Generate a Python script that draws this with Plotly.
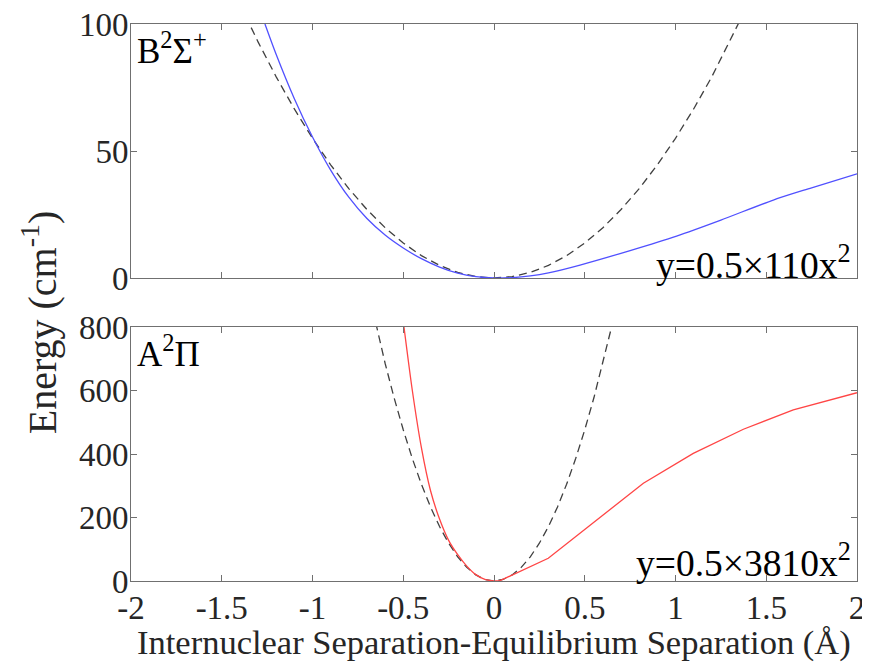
import plotly.graph_objects as go
from plotly.subplots import make_subplots

# ---- data ----
# B2Sigma+ state (top panel)
b_x = [-1.262, -1.2, -1.1, -1.0, -0.9, -0.8, -0.7, -0.6, -0.5, -0.4, -0.3, -0.2, -0.1, 0.0,
       0.1, 0.2, 0.3, 0.474, 0.75, 1.006, 1.25, 1.539, 1.75, 2.0]
b_y = [100.0, 88.0, 70.6, 55.5, 42.5, 31.8, 23.4, 16.9, 11.8, 7.6, 4.3, 1.9, 0.5, 0.0,
       0.15, 0.8, 2.0, 5.1, 10.8, 16.5, 22.8, 30.7, 35.5, 41.0]
# harmonic fit y = 0.5*110 x^2 (tabulated)
bfit_x = [-1.4, -1.3, -1.2, -1.1, -1.0, -0.9, -0.8, -0.7, -0.6, -0.5, -0.4, -0.3, -0.2, -0.1, 0.0,
          0.1, 0.2, 0.3, 0.4, 0.5, 0.6, 0.7, 0.8, 0.9, 1.0, 1.1, 1.2, 1.3, 1.4]
bfit_y = [107.8, 92.95, 79.2, 66.55, 55.0, 44.55, 35.2, 26.95, 19.8, 13.75, 8.8, 4.95, 2.2, 0.55, 0.0,
          0.55, 2.2, 4.95, 8.8, 13.75, 19.8, 26.95, 35.2, 44.55, 55.0, 66.55, 79.2, 92.95, 107.8]

# A2Pi state (bottom panel): smooth inner wall, then polyline outer part
a_left_x = [-0.496, -0.45, -0.4, -0.35, -0.3, -0.25, -0.2, -0.15, -0.1, -0.05, 0.0]
a_left_y = [800.0, 600.0, 420.0, 285.0, 195.0, 128.0, 83.0, 47.0, 20.0, 5.0, 0.0]
a_right_x = [0.0, 0.033, 0.299, 0.566, 0.823, 1.098, 1.374, 1.649, 2.0]
a_right_y = [0.0, 1.0, 71.5, 192.0, 308.0, 402.0, 478.0, 539.0, 593.0]
# harmonic fit y = 0.5*3810 x^2 (tabulated)
afit_x = [-0.7, -0.65, -0.6, -0.55, -0.5, -0.45, -0.4, -0.35, -0.3, -0.25, -0.2, -0.15, -0.1, -0.05, 0.0,
          0.05, 0.1, 0.15, 0.2, 0.25, 0.3, 0.35, 0.4, 0.45, 0.5, 0.55, 0.6, 0.65, 0.7]
afit_y = [933.45, 804.86, 685.8, 576.26, 476.25, 385.76, 304.8, 233.36, 171.45, 119.06, 76.2, 42.86, 19.05, 4.76, 0.0,
          4.76, 19.05, 42.86, 76.2, 119.06, 171.45, 233.36, 304.8, 385.76, 476.25, 576.26, 685.8, 804.86, 933.45]

x_ticks = [-2, -1.5, -1, -0.5, 0, 0.5, 1, 1.5, 2]
x_tick_text = ["-2", "-1.5", "-1", "-0.5", "0", "0.5", "1", "1.5", "2"]
top_y_ticks = [0, 50, 100]
bot_y_ticks = [0, 200, 400, 600, 800]

FONT = "Liberation Serif, Times New Roman, serif"
AX = "#707070"
TXT = "#262626"
DASH = dict(color="#404040", width=1.3, dash="8px,5px")

fig = make_subplots(rows=2, cols=1, shared_xaxes=False, vertical_spacing=0.088)

fig.add_trace(go.Scatter(x=bfit_x, y=bfit_y, mode="lines", line=DASH), row=1, col=1)
fig.add_trace(go.Scatter(x=b_x, y=b_y, mode="lines", line_shape="spline",
                         line=dict(color="#5050ff", width=1.3, smoothing=0.8)), row=1, col=1)
fig.add_trace(go.Scatter(x=afit_x, y=afit_y, mode="lines", line=DASH), row=2, col=1)
fig.add_trace(go.Scatter(x=a_left_x, y=a_left_y, mode="lines", line_shape="spline",
                         line=dict(color="#ff4545", width=1.3, smoothing=0.8)), row=2, col=1)
fig.add_trace(go.Scatter(x=a_right_x, y=a_right_y, mode="lines",
                         line=dict(color="#ff4545", width=1.3)), row=2, col=1)

axis_common = dict(showgrid=False, zeroline=False, showline=True, linecolor=AX, linewidth=1,
                   mirror="allticks", ticks="inside", ticklen=6, tickcolor=AX, tickwidth=1,
                   tickfont=dict(family=FONT, size=33, color=TXT), automargin=False,
                   ticklabeloverflow="allow")

fig.update_xaxes(range=[-2, 2], tickvals=x_ticks, ticktext=x_tick_text,
                 ticklabelstandoff=-3, **axis_common)
fig.update_xaxes(showticklabels=False, row=1, col=1)
fig.update_yaxes(ticklabelstandoff=-5, **axis_common)
fig.update_yaxes(range=[0, 100], tickvals=top_y_ticks, row=1, col=1)
fig.update_yaxes(range=[0, 800], tickvals=bot_y_ticks, row=2, col=1)

fig.update_layout(
    width=862, height=661,
    margin=dict(l=123, r=13, t=16, b=88),
    paper_bgcolor="white", plot_bgcolor="white",
    showlegend=False,
    font=dict(family=FONT, color="black"),
)
fig.layout.yaxis.domain = [0.544, 1.0]
fig.layout.yaxis2.domain = [0.0, 0.456]

LBL = dict(family=FONT, size=35, color="black")
EQ = dict(family=FONT, size=37.5, color="black")
fig.add_annotation(text="B<sup>2</sup>Σ<sup>+</sup>", xref="x domain", yref="y domain",
                   x=0.005, y=1.0, xanchor="left", yanchor="top", showarrow=False, font=LBL)
fig.add_annotation(text="y=0.5×110x<sup>2</sup>", xref="x domain", yref="y domain",
                   x=0.994, y=-0.04, xanchor="right", yanchor="bottom", showarrow=False, font=EQ)
fig.add_annotation(text="A<sup>2</sup>Π", xref="x2 domain", yref="y2 domain",
                   x=0.005, y=1.0, xanchor="left", yanchor="top", showarrow=False, font=LBL)
fig.add_annotation(text="y=0.5×3810x<sup>2</sup>", xref="x2 domain", yref="y2 domain",
                   x=0.994, y=-0.02, xanchor="right", yanchor="bottom", showarrow=False, font=EQ)
fig.add_annotation(text="Energy (cm<sup>-1</sup>)", xref="paper", yref="paper",
                   x=-0.125, y=0.465, xanchor="center", yanchor="middle", textangle=-90,
                   showarrow=False, font=dict(family=FONT, size=40, color=TXT))
fig.add_annotation(text="Internuclear Separation-Equilibrium Separation (Å)", xref="paper", yref="paper",
                   x=0.5, y=-0.11, xanchor="center", yanchor="middle",
                   showarrow=False, font=dict(family=FONT, size=34.5, color=TXT))

fig.write_html("out.html")
